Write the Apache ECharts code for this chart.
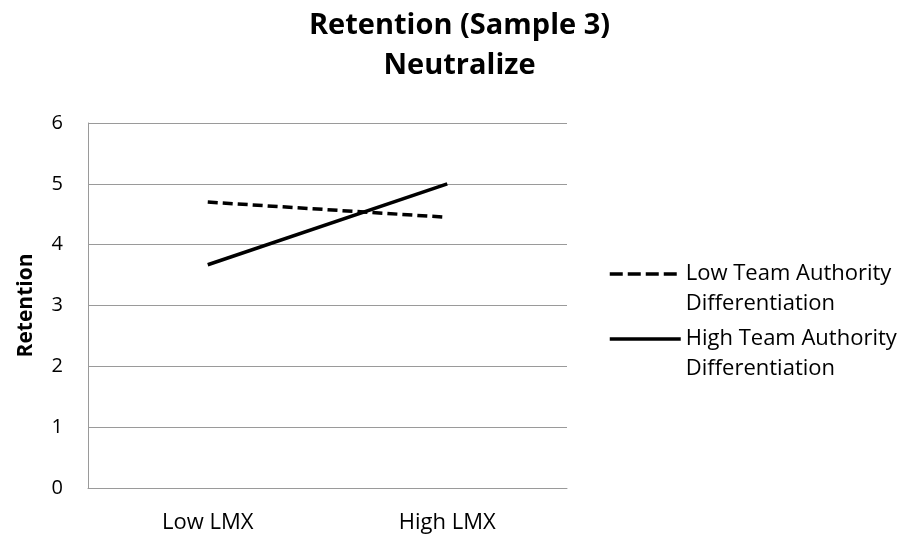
<!DOCTYPE html>
<html>
<head>
<meta charset="utf-8">
<script src="https://cdn.jsdelivr.net/npm/echarts@6/dist/echarts.min.js"></script>
<style>html,body{margin:0;padding:0;background:#fff}#c{width:919px;height:540px}</style>
</head>
<body>
<div id="c"></div>
<script>
const categories = ['Low LMX', 'High LMX'];
const lowTeamAuth = [4.70, 4.45];
const highTeamAuth = [3.67, 5.00];
const seriesNames = ['Low Team Authority\nDifferentiation', 'High Team Authority\nDifferentiation'];
const yTicks = [0, 1, 2, 3, 4, 5, 6];

const FONT = 'Open Sans';
const chart = echarts.init(document.getElementById('c'), null, {renderer: 'canvas'});
chart.setOption({
  backgroundColor: '#fff',
  animation: false,
  title: {
    text: 'Retention (Sample 3)\nNeutralize',
    left: 'center', top: 6,
    padding: [0, 0, 0, 0],
    textStyle: {fontFamily: FONT, fontWeight: 'bold', fontSize: 29, lineHeight: 40, color: '#000'}
  },
  legend: {
    data: [
      {name: seriesNames[0], lineStyle: {color: '#000', width: 3.5, type: [13, 5]}},
      {name: seriesNames[1], lineStyle: {color: '#000', width: 3.5, type: 'solid'}}
    ],
    orient: 'vertical', left: 608, top: 229, padding: 0,
    itemWidth: 71, itemHeight: 14, itemGap: -25,
    itemStyle: {color: 'transparent', borderColor: 'transparent', borderWidth: 0, opacity: 0},
    formatter: name => ' \n' + name,
    textStyle: {fontFamily: FONT, fontSize: 22, color: '#000', lineHeight: 30}
  },
  grid: {left: 88, right: 352, top: 123, bottom: 52, containLabel: false},
  xAxis: {
    type: 'category', data: categories, boundaryGap: true,
    axisLine: {show: true, lineStyle: {color: '#9a9a9a', width: 1}},
    axisTick: {show: false},
    axisLabel: {fontFamily: FONT, fontSize: 22, color: '#000', margin: 24}
  },
  yAxis: {
    type: 'value', min: 0, max: 6, interval: 1,
    name: 'Retention', nameLocation: 'middle', nameGap: 51, nameRotate: 90,
    nameTextStyle: {fontFamily: FONT, fontWeight: 'bold', fontSize: 21, color: '#000'},
    axisLine: {show: true, lineStyle: {color: '#9a9a9a', width: 1}},
    axisTick: {show: false},
    axisLabel: {fontFamily: FONT, fontSize: 20, color: '#000', margin: 25,
      formatter: v => yTicks.includes(v) ? String(v) : ''},
    splitLine: {show: true, lineStyle: {color: '#9a9a9a', width: 1}}
  },
  series: [
    {name: seriesNames[0], type: 'line', data: lowTeamAuth, symbol: 'none', color: '#000',
     lineStyle: {color: '#000', width: 3.5, type: [10, 5]}},
    {name: seriesNames[1], type: 'line', data: highTeamAuth, symbol: 'none', color: '#000',
     lineStyle: {color: '#000', width: 3.5, type: 'solid'}}
  ]
});
</script>
</body>
</html>
